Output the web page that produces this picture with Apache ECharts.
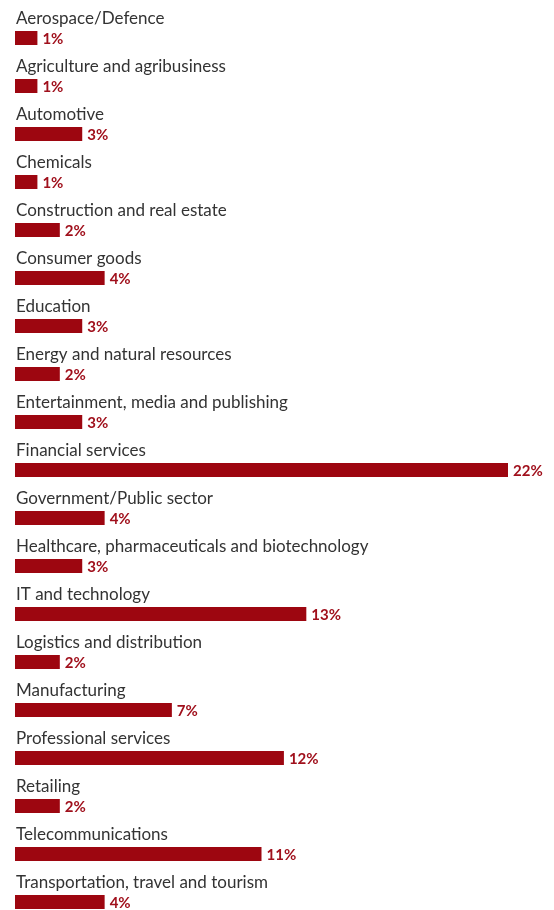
<!DOCTYPE html>
<html>
<head>
<meta charset="utf-8">
<script src="https://cdn.jsdelivr.net/npm/echarts@6/dist/echarts.min.js"></script>
<style>
  html, body { margin: 0; padding: 0; background: #ffffff; }
  #chart { width: 554px; height: 910px; }
</style>
</head>
<body>
<div id="chart"></div>
<script>
// Share of respondents by industry
const categories = [
  'Aerospace/Defence',
  'Agriculture and agribusiness',
  'Automotive',
  'Chemicals',
  'Construction and real estate',
  'Consumer goods',
  'Education',
  'Energy and natural resources',
  'Entertainment, media and publishing',
  'Financial services',
  'Government/Public sector',
  'Healthcare, pharmaceuticals and biotechnology',
  'IT and technology',
  'Logistics and distribution',
  'Manufacturing',
  'Professional services',
  'Retailing',
  'Telecommunications',
  'Transportation, travel and tourism'
];
const shares = [1, 1, 3, 1, 2, 4, 3, 2, 3, 22, 4, 3, 13, 2, 7, 12, 2, 11, 4];

const chart = echarts.init(document.getElementById('chart'), null, { renderer: 'canvas' });

chart.setOption({
  animation: false,
  grid: {
    left: 15, top: 38, bottom: 8, right: 46,
    containLabel: false,
    outerBoundsMode: 'none'
  },
  xAxis: {
    type: 'value',
    min: 0,
    max: 22,
    show: false
  },
  yAxis: {
    type: 'category',
    data: categories,
    inverse: true,
    boundaryGap: false,
    axisLine: { show: false },
    axisTick: { show: false },
    splitLine: { show: false },
    axisLabel: {
      inside: true,
      margin: 1,
      align: 'left',
      verticalAlign: 'middle',
      // category name sits on the upper line, above its bar
      formatter: function (name) { return '{n|' + name + '}\n{s| }'; },
      rich: {
        n: { color: '#333333', fontFamily: 'Lato', fontSize: 17, lineHeight: 20 },
        s: { fontSize: 10, lineHeight: 38 }
      }
    }
  },
  series: [{
    type: 'bar',
    data: shares,
    barWidth: 14,
    itemStyle: { color: '#9d0610' },
    label: {
      show: true,
      position: 'right',
      distance: 5,
      formatter: '{c}%',
      color: '#a0101c',
      fontFamily: 'Lato',
      fontWeight: 'bold',
      fontSize: 15,
      offset: [0, 1]
    }
  }]
});
</script>
</body>
</html>
